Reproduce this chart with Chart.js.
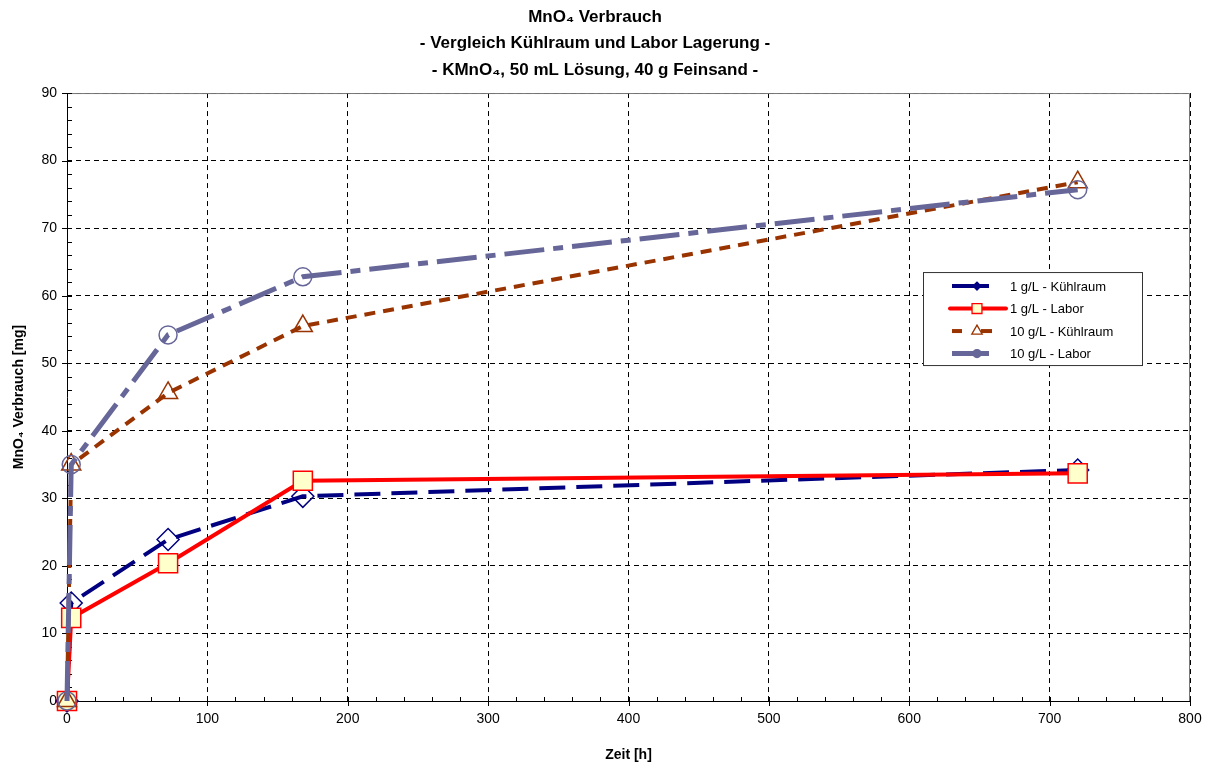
<!DOCTYPE html>
<html>
<head>
<meta charset="utf-8">
<script src="https://cdn.jsdelivr.net/npm/chart.js@4.4.1/dist/chart.umd.min.js"></script>
<style>
  html, body { margin: 0; padding: 0; background: #fff; }
  #wrap { width: 1212px; height: 764px; }
</style>
</head>
<body>
<div id="wrap"><canvas id="myChart" width="1212" height="764"></canvas></div>
<script>
// Zeit [h]
let zeit = [0, 3, 72, 168, 720];
// MnO4 Verbrauch [mg]
let kuehl1 = [0, 14.5, 23.9, 30.3, 34.2];
let labor1 = [0, 12.3, 20.4, 32.6, 33.7];
let kuehl10 = [0, 35.0, 45.6, 55.5, 76.8];
let labor10 = [0, 35.0, 54.2, 62.8, 75.7];
let seriesNames = ['1 g/L - Kühlraum', '1 g/L - Labor', '10 g/L - Kühlraum', '10 g/L - Labor'];
let xTicks = [0, 100, 200, 300, 400, 500, 600, 700, 800];
let yTicks = [0, 10, 20, 30, 40, 50, 60, 70, 80, 90];
let xMinorStep = 20;
let yMinorStep = 2;

function pts(ys) {
    return zeit.map((x, i) => ({ x: x, y: ys[i] }));
}

Chart.defaults.font.family = '"Liberation Sans", Arial, sans-serif';
Chart.defaults.color = '#000';

// white background, solid frame and excel-like tick marks
let frame = {
    id: 'frame',
    beforeDraw(chart) {
        let c = chart.ctx;
        c.save();
        c.fillStyle = '#fff';
        c.fillRect(0, 0, chart.width, chart.height);
        c.restore();
    },
    beforeDatasetsDraw(chart) {
        let a = chart.chartArea, c = chart.ctx;
        let xs = chart.scales.x, ys = chart.scales.y;
        c.save();
        c.strokeStyle = '#777';
        c.lineWidth = 1;
        c.beginPath();
        c.moveTo(a.left, a.top + 0.5);
        c.lineTo(a.right - 0.5, a.top + 0.5);
        c.lineTo(a.right - 0.5, a.bottom);
        c.stroke();
        c.strokeStyle = '#000';
        c.beginPath();
        c.moveTo(a.left + 0.5, a.top);
        c.lineTo(a.left + 0.5, a.bottom + 0.5);
        c.lineTo(a.right, a.bottom + 0.5);
        c.stroke();
        c.beginPath();
        for (let v = 0; v <= xs.max; v += xMinorStep) {
            let px = Math.round(xs.getPixelForValue(v)) + 0.5;
            let major = v % 100 == 0;
            c.moveTo(px, a.bottom - 4);
            c.lineTo(px, a.bottom + (major ? 5 : 0));
        }
        for (let v = 0; v <= ys.max; v += yMinorStep) {
            let py = Math.round(ys.getPixelForValue(v)) + 0.5;
            let major = v % 10 == 0;
            c.moveTo(a.left - (major ? 5 : 0), py);
            c.lineTo(a.left + 5, py);
        }
        c.stroke();
        c.restore();
    }
};

// legend box inside the plot
let boxLegend = {
    id: 'boxLegend',
    afterDraw(chart) {
        let a = chart.chartArea, c = chart.ctx;
        let left = a.left + 856, top = a.top + 179, w = 219, h = 93;
        c.save();
        c.fillStyle = '#fff';
        c.fillRect(left, top, w, h);
        c.strokeStyle = '#333';
        c.lineWidth = 1;
        c.strokeRect(left + 0.5, top + 0.5, w, h);
        chart.data.datasets.forEach((ds, i) => {
            let y = top + 14 + i * 22.5;
            let seg = ds.legendLine;
            c.save();
            c.strokeStyle = ds.borderColor;
            c.lineWidth = ds.borderWidth;
            c.lineCap = i == 1 ? 'round' : 'butt';
            for (let k = 0; k < seg.length; k += 2) {
                c.beginPath();
                c.moveTo(left + seg[k], y);
                c.lineTo(left + seg[k + 1], y);
                c.stroke();
            }
            c.restore();
            c.save();
            c.fillStyle = ds.legendFill || ds.pointBackgroundColor;
            c.strokeStyle = ds.pointBorderColor;
            c.lineWidth = 1.3;
            Chart.helpers.drawPoint(c, {
                pointStyle: ds.pointStyle, radius: ds.legendRadius, rotation: 0, borderWidth: 1.3
            }, left + 54, y);
            c.restore();
            c.fillStyle = '#000';
            c.font = '13px "Liberation Sans", Arial, sans-serif';
            c.textBaseline = 'middle';
            c.fillText(seriesNames[i], left + 87, y + 1);
        });
        c.restore();
    }
};

let ctx = document.getElementById('myChart').getContext('2d');
let myChart = new Chart(ctx, {
    type: 'line',
    data: {
        datasets: [{
            label: seriesNames[0],
            data: pts(kuehl1),
            borderColor: '#000080',
            borderWidth: 4,
            borderDash: [26, 11],
            legendLine: [29, 66],
            pointStyle: 'rectRot',
            pointRadius: 11,
            legendRadius: 4,
            pointBackgroundColor: 'rgba(255,255,255,0)',
            legendFill: '#000080',
            pointBorderColor: '#000080',
            pointBorderWidth: 1.5,
            clip: false,
            order: 4
        }, {
            label: seriesNames[1],
            data: pts(labor1),
            borderColor: '#ff0000',
            borderWidth: 4,
            legendLine: [27, 83],
            pointStyle: 'rect',
            pointRadius: 13.5,
            legendRadius: 7,
            pointBackgroundColor: '#ffffcc',
            pointBorderColor: '#ff0000',
            pointBorderWidth: 1.5,
            clip: false,
            order: 3
        }, {
            label: seriesNames[2],
            data: pts(kuehl10),
            borderColor: '#993300',
            borderWidth: 4,
            borderDash: [11, 8],
            legendLine: [29, 39, 58, 69],
            pointStyle: 'triangle',
            pointRadius: 11,
            legendRadius: 6,
            pointBackgroundColor: 'rgba(255,255,255,0)',
            legendFill: '#fff',
            pointBorderColor: '#993300',
            pointBorderWidth: 1.5,
            clip: false,
            order: 2
        }, {
            label: seriesNames[3],
            data: pts(labor10),
            borderColor: '#666699',
            borderWidth: 5,
            borderDash: [40, 9, 10, 9],
            legendLine: [29, 66],
            pointStyle: 'circle',
            pointRadius: 9,
            legendRadius: 4,
            pointBackgroundColor: 'rgba(255,255,255,0)',
            legendFill: '#666699',
            pointBorderColor: '#666699',
            pointBorderWidth: 1.5,
            clip: false,
            order: 1
        }]
    },
    options: {
        responsive: false,
        animation: false,
        layout: { padding: { left: 0, right: 22, top: 0, bottom: 0 } },
        plugins: {
            legend: { display: false },
            tooltip: { enabled: false },
            title: {
                display: true,
                text: ['MnO₄ Verbrauch', '- Vergleich Kühlraum und Labor Lagerung -', '- KMnO₄, 50 mL Lösung, 40 g Feinsand -'],
                font: { size: 17, weight: 'bold', lineHeight: 1.55 },
                padding: { top: 4, bottom: 10 },
                color: '#000'
            }
        },
        scales: {
            x: {
                type: 'linear',
                min: 0,
                max: 800,
                afterBuildTicks(scale) {
                    scale.ticks = xTicks.map(v => ({ value: v }));
                },
                afterFit(scale) { scale.height = 63; },
                ticks: { font: { size: 14 }, padding: 10, maxRotation: 0 },
                grid: { color: '#000', lineWidth: 1, drawTicks: false },
                border: { display: false, dash: [5, 4] },
                title: {
                    display: true,
                    text: 'Zeit [h]',
                    font: { size: 14, weight: 'bold' },
                    padding: { top: 4, bottom: 0 }
                }
            },
            y: {
                min: 0,
                max: 90,
                afterBuildTicks(scale) {
                    scale.ticks = yTicks.map(v => ({ value: v }));
                },
                afterFit(scale) { scale.width = 67; },
                ticks: { font: { size: 14 }, padding: 10 },
                grid: { color: '#000', lineWidth: 1, drawTicks: false },
                border: { display: false, dash: [5, 4] },
                title: {
                    display: true,
                    text: 'MnO₄ Verbrauch [mg]',
                    font: { size: 14, weight: 'bold' },
                    padding: { top: 11, bottom: 0 }
                }
            }
        }
    },
    plugins: [frame, boxLegend]
});
</script>
</body>
</html>
